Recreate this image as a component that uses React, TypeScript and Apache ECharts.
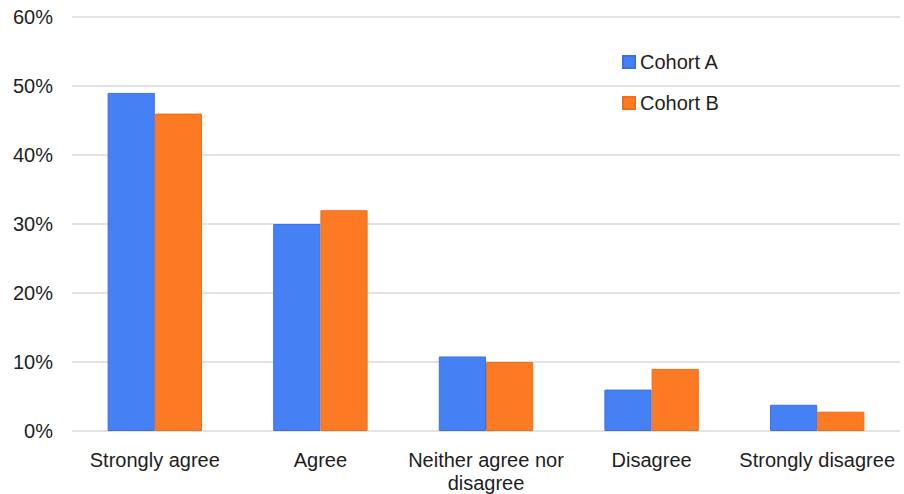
import React, { useEffect, useRef } from "react";
import * as echarts from "echarts";

const categories = ["Strongly agree", "Agree", "Neither agree nor disagree", "Disagree", "Strongly disagree"];
const cohortA = [49, 30, 10.8, 6, 3.8];
const cohortB = [46, 32, 10, 9, 2.8];
const seriesNames = ["Cohort A", "Cohort B"];

const FONT = "'Liberation Sans', Arial, Helvetica, sans-serif";

export default function App() {
  const ref = useRef<HTMLDivElement>(null);
  useEffect(() => {
    if (!ref.current) return;
    const chart = echarts.init(ref.current, null, { renderer: "svg" });
    chart.setOption({
      animation: false,
      backgroundColor: "#ffffff",
      grid: { left: 72, right: 4, top: 17, bottom: 63, containLabel: false },
      legend: {
        orient: "vertical",
        left: 617,
        top: 47,
        itemWidth: 12,
        itemHeight: 12,
        itemGap: 21,
        icon: "rect",
        textStyle: { fontFamily: FONT, fontSize: 20, color: "#1e1e1e", lineHeight: 20 },
        data: seriesNames,
      },
      xAxis: {
        type: "category",
        data: categories,
        axisLine: { show: false },
        axisTick: { show: false },
        axisLabel: {
          fontFamily: FONT,
          fontSize: 20,
          color: "#1e1e1e",
          margin: 17,
          lineHeight: 23,
          interval: 0,
          formatter: (v: string) => (v === "Neither agree nor disagree" ? "Neither agree nor\ndisagree" : v),
        },
      },
      yAxis: {
        type: "value",
        min: 0,
        max: 60,
        interval: 10,
        axisLine: { show: false },
        axisTick: { show: false },
        axisLabel: {
          fontFamily: FONT,
          fontSize: 20,
          color: "#1e1e1e",
          margin: 19,
          formatter: "{value}%",
        },
        splitLine: { lineStyle: { color: "#e3e3e3", width: 2 } },
      },
      series: [
        {
          name: seriesNames[0],
          type: "bar",
          data: cohortA,
          barGap: "0%",
          barCategoryGap: "43%",
          itemStyle: { color: "#4680f5", borderColor: "#3a72e6", borderWidth: 1 },
        },
        {
          name: seriesNames[1],
          type: "bar",
          data: cohortB,
          itemStyle: { color: "#fb7a23", borderColor: "#ee6e1a", borderWidth: 1 },
        },
      ],
    });
    return () => chart.dispose();
  }, []);
  return <div ref={ref} style={{ position: "absolute", left: 0, top: 0, width: 904, height: 494 }} />;
}
